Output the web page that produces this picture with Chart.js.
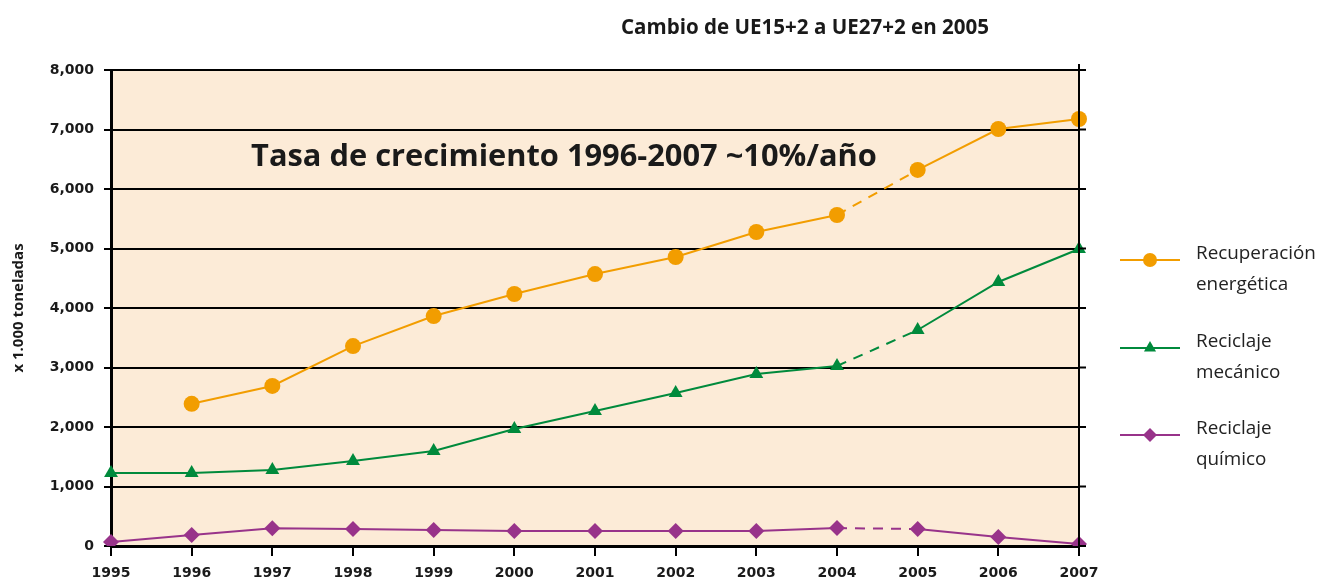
<!DOCTYPE html>
<html><head><meta charset="utf-8">
<script src="https://cdn.jsdelivr.net/npm/chart.js@4/dist/chart.umd.min.js"></script>
<style>html,body{margin:0;padding:0;background:#fff}#wrap{width:1320px;height:578px;position:relative}</style>
</head><body><div id="wrap"><canvas id="c" width="1320" height="578"></canvas></div>
<script>
const years = ['1995','1996','1997','1998','1999','2000','2001','2002','2003','2004','2005','2006','2007'];
const recuperacion = [null,2390,2690,3360,3865,4235,4570,4857,5277,5563,6320,7008,7176];
const mecanico = [1227,1227,1277,1428,1597,1966,2269,2571,2890,3025,3630,4437,4992];
const quimico = [67,185,300,285,270,252,252,252,252,302,285,150,35];
const seriesNames = [['Recuperación','energética'],['Reciclaje','mecánico'],['Reciclaje','químico']];
const yTicks = [0,1000,2000,3000,4000,5000,6000,7000,8000];
const titleText = 'Cambio de UE15+2 a UE27+2 en 2005';
const noteText = 'Tasa de crecimiento 1996-2007 ~10%/año';
const yTitle = 'x 1.000 toneladas';

const ORANGE='#F29D00', GREEN='#008A3C', PURPLE='#98338A', INK='#1a1a1a';
const FONT='"Open Sans", "DejaVu Sans", sans-serif';
const TICKFONT='"DejaVu Sans", sans-serif';
const dashSeg = {borderDash: ctx => ctx.p0DataIndex === 9 ? [10,8] : undefined};

function fitText(ctx, text, weight, base, width){
  ctx.font = weight+' '+base+'px '+FONT;
  const w = ctx.measureText(text).width;
  ctx.font = weight+' '+(base*width/w).toFixed(2)+'px '+FONT;
}

const bgPlugin = {
  id:'bg',
  beforeDraw(chart){
    const {ctx, chartArea:a} = chart;
    ctx.save(); ctx.fillStyle='#FCEBD7';
    ctx.fillRect(a.left,a.top,a.right-a.left,a.bottom-a.top); ctx.restore();
  },
  afterDraw(chart){
    const {ctx, chartArea:a, scales} = chart;
    ctx.save();
    ctx.strokeStyle='#000'; ctx.lineWidth=2;
    ctx.beginPath(); ctx.moveTo(a.right, a.top-6); ctx.lineTo(a.right, a.bottom); ctx.stroke();
    yTicks.forEach(v=>{
      const y = scales.y.getPixelForValue(v);
      ctx.beginPath(); ctx.moveTo(a.right, y); ctx.lineTo(a.right+7, y); ctx.stroke();
    });
    ctx.fillStyle=INK; ctx.textAlign='center'; ctx.textBaseline='middle';
    fitText(ctx, titleText, 'bold', 18, 368);
    ctx.fillText(titleText, 805, 28);
    fitText(ctx, noteText, 'bold', 30, 626);
    ctx.fillText(noteText, 564, 157);
    const cols=[ORANGE,GREEN,PURPLE], styles=['circle','triangle','rectRot'];
    const ys=[260,348,435];
    ctx.textAlign='left';
    fitText(ctx, 'Recuperación', 'normal', 18, 120);
    ys.forEach((y,i)=>{
      ctx.strokeStyle=cols[i]; ctx.lineWidth=2;
      ctx.beginPath(); ctx.moveTo(1120,y); ctx.lineTo(1180,y); ctx.stroke();
      ctx.fillStyle=cols[i];
      Chart.helpers.drawPoint(ctx,{pointStyle:styles[i],radius:7,borderWidth:0},1150,y);
      ctx.fillStyle='#222';
      ctx.fillText(seriesNames[i][0],1196,y-6);
      ctx.fillText(seriesNames[i][1],1196,y+25);
    });
    ctx.restore();
  }
};

new Chart(document.getElementById('c'), {
  type:'line',
  data:{labels:years, datasets:[
    {label:seriesNames[0].join(' '), data:recuperacion, borderColor:ORANGE, backgroundColor:ORANGE, borderWidth:2, pointStyle:'circle', pointRadius:8, pointBorderWidth:0, segment:dashSeg},
    {label:seriesNames[1].join(' '), data:mecanico, borderColor:GREEN, backgroundColor:GREEN, borderWidth:2, pointStyle:'triangle', pointRadius:8, pointBorderWidth:0, segment:dashSeg},
    {label:seriesNames[2].join(' '), data:quimico, borderColor:PURPLE, backgroundColor:PURPLE, borderWidth:2, pointStyle:'rectRot', pointRadius:8, pointBorderWidth:0, segment:dashSeg}
  ]},
  options:{
    responsive:false, animation:false,
    layout:{padding:{top:70,right:241,left:10,bottom:0}},
    plugins:{legend:{display:false},tooltip:{enabled:false},title:{display:false}},
    scales:{
      x:{offset:false,
        grid:{display:true,drawOnChartArea:false,color:'#000',lineWidth:2,tickLength:10},
        border:{color:'#000',width:3},
        ticks:{color:INK,font:{family:TICKFONT,size:14,weight:'bold'},padding:9,maxRotation:0,autoSkip:false},
        afterFit(s){s.height=32;}
      },
      y:{min:0,max:8000,
        afterBuildTicks(s){s.ticks=yTicks.map(v=>({value:v}));},
        grid:{color:'#000',lineWidth:2,tickLength:7},
        border:{color:'#000',width:3},
        ticks:{color:INK,font:{family:TICKFONT,size:14,weight:'bold'},padding:10,
          callback:v=>v.toLocaleString('en-US')},
        title:{display:true,text:yTitle,color:INK,font:{family:FONT,size:15,weight:'bold'},padding:{top:0,bottom:4}},
        afterFit(s){s.width=101;}
      }
    }
  },
  plugins:[bgPlugin]
});
</script></body></html>
